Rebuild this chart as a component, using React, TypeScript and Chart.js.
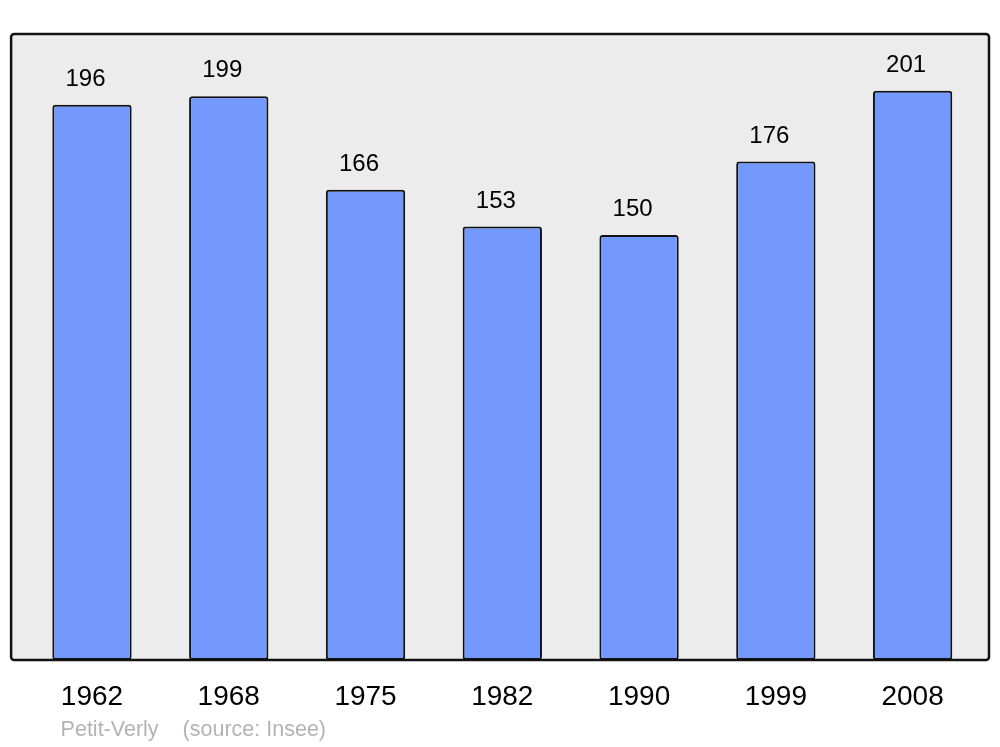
import React, { useEffect, useRef } from "react";
import { Chart, registerables } from "chart.js";

Chart.register(...registerables);

const years: string[] = ["1962", "1968", "1975", "1982", "1990", "1999", "2008"];
const population: number[] = [196, 199, 166, 153, 150, 176, 201];
const placeName = "Petit-Verly";
const sourceText = "(source: Insee)";

const FONT = "'Liberation Sans', Arial, sans-serif";

const framePlugin = {
  id: "frame",
  beforeDatasetsDraw(chart: any) {
    const { ctx, chartArea } = chart;
    const x0 = chartArea.left - 12.5;
    const x1 = chartArea.right + 8;
    const y0 = chartArea.top;
    const y1 = chartArea.bottom;
    ctx.save();
    ctx.beginPath();
    (ctx as any).roundRect(x0, y0, x1 - x0, y1 - y0, 3);
    ctx.fillStyle = "#ececec";
    ctx.fill();
    ctx.lineWidth = 2.5;
    ctx.strokeStyle = "#111111";
    ctx.stroke();
    ctx.restore();
  },
  afterDatasetsDraw(chart: any) {
    const { ctx } = chart;
    const meta = chart.getDatasetMeta(0);
    const data = chart.data.datasets[0].data as number[];
    ctx.save();
    ctx.font = `24px ${FONT}`;
    ctx.fillStyle = "#000000";
    ctx.textAlign = "center";
    ctx.textBaseline = "middle";
    meta.data.forEach((bar: any, i: number) => {
      ctx.fillText(String(data[i]), bar.x - 6.5, bar.y - 25.5);
    });
    ctx.restore();
  },
  afterDraw(chart: any) {
    const { ctx, chartArea } = chart;
    ctx.save();
    ctx.font = `21.5px ${FONT}`;
    ctx.fillStyle = "#b3b3b3";
    ctx.textAlign = "left";
    ctx.textBaseline = "middle";
    const x = chartArea.left + 37;
    ctx.fillText(placeName, x, 730);
    ctx.fillText(sourceText, x + 122, 730);
    ctx.restore();
  },
};

export default function App() {
  const ref = useRef<HTMLCanvasElement | null>(null);
  useEffect(() => {
    if (!ref.current) return;
    const chart = new Chart(ref.current, {
      type: "bar",
      data: {
        labels: years,
        datasets: [
          {
            data: population,
            backgroundColor: "#7399ff",
            borderColor: "#111111",
            borderWidth: 2,
            borderRadius: 3,
            borderSkipped: false,
            barPercentage: 0.58,
            categoryPercentage: 1,
          },
        ],
      },
      options: {
        responsive: false,
        animation: false,
        events: [],
        layout: { padding: { left: 23.6, right: 19, top: 34, bottom: 0 } },
        plugins: {
          legend: { display: false },
          tooltip: { enabled: false },
          title: { display: false },
        },
        scales: {
          x: {
            offset: true,
            grid: { display: false, drawTicks: false },
            border: { display: false },
            ticks: {
              padding: 20,
              color: "#000000",
              font: { size: 28, family: FONT },
              maxRotation: 0,
            },
            afterFit(scale: any) {
              scale.height = 87;
            },
          },
          y: {
            display: false,
            min: 0,
            max: 221,
          },
        },
      },
      plugins: [framePlugin],
    });
    return () => chart.destroy();
  }, []);
  return (
    <div style={{ position: "absolute", left: 0, top: 0, width: 1000, height: 747, background: "#ffffff" }}>
      <canvas ref={ref} width={1000} height={747} style={{ display: "block" }} />
    </div>
  );
}
